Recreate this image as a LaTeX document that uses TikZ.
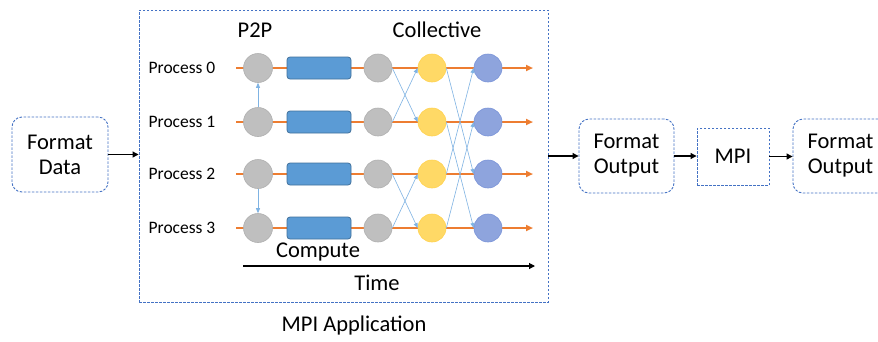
\documentclass[tikz,border=0pt]{standalone}
\usepackage{fontspec}
\setmainfont{Carlito}
\usetikzlibrary{arrows.meta}
\definecolor{dashblue}{HTML}{4472C4}
\definecolor{lineorange}{HTML}{ED7D31}
\definecolor{grayfill}{HTML}{BFBFBF}
\definecolor{grayedge}{HTML}{AFAFAF}
\definecolor{rectfill}{HTML}{5B9BD5}
\definecolor{rectedge}{HTML}{41719C}
\definecolor{yelfill}{HTML}{FFD966}
\definecolor{yeledge}{HTML}{FFD24F}
\definecolor{purfill}{HTML}{8EA4DD}
\definecolor{puredge}{HTML}{7A93D8}
\definecolor{msgblue}{HTML}{7FB3E3}
\tikzset{
  dbox/.style={draw=dashblue, line width=0.9pt, dash pattern=on 2.5pt off 1.5pt, align=center, font=\fontsize{22.5}{25}\selectfont, inner sep=0pt},
  rbox/.style={dbox, rounded corners=10pt},
  blackarr/.style={-{Triangle[length=6pt,width=6pt]}, line width=1.1pt, black},
  procline/.style={-{Triangle[length=7pt,width=6pt]}, line width=1.9pt, lineorange},
  msg/.style={-{Triangle[length=5pt,width=4pt]}, line width=0.6pt, msgblue},
  graynode/.style={circle, fill=grayfill, draw=grayedge, line width=0.6pt, minimum size=29pt, inner sep=0pt},
  yelnode/.style={circle, fill=yelfill, draw=yeledge, line width=0.6pt, minimum size=28pt, inner sep=0pt},
  purnode/.style={circle, fill=purfill, draw=puredge, line width=0.6pt, minimum size=28pt, inner sep=0pt},
  compbox/.style={rectangle, rounded corners=3pt, fill=rectfill, draw=rectedge, line width=0.8pt, minimum width=64pt, minimum height=22pt, inner sep=0pt},
  proclabel/.style={font=\fontsize{17.5}{20}\selectfont},
  biglabel/.style={font=\fontsize{22.5}{25}\selectfont},
}
\begin{document}
\begin{tikzpicture}[x=1pt,y=-1pt]
\useasboundingbox[fill=white] (0,0) rectangle (878,341);
% outer boxes
\node[rbox, minimum width=96pt, minimum height=75pt] (fd) at (60,154.5) {Format\\Data};
\node[dbox, minimum width=409pt, minimum height=292pt] (app) at (343.5,156) {};
\node[rbox, minimum width=95pt, minimum height=74pt] (fo1) at (626.5,156) {Format\\Output};
\node[dbox, minimum width=72pt, minimum height=57pt] (mpi) at (733,156.5) {MPI};
\node[rbox, minimum width=95pt, minimum height=74pt] (fo2) at (840.5,156) {Format\\Output};
\draw[blackarr] (fd.east) -- (fd.east -| app.west);
\draw[blackarr] (app.east |- fo1.west) -- (fo1.west);
\draw[blackarr] (fo1.east) -- (fo1.east -| mpi.west);
\draw[blackarr] (mpi.east) -- (mpi.east -| fo2.west);
% labels
\node[biglabel] (p2p) at (255,30) {P2P};
\node[biglabel] (coll) at (437,30) {Collective};
\node[biglabel] (comp) at (318,252) {Compute};
\node[biglabel] (time) at (377,283) {Time};
\node[biglabel] (mpiapp) at (354,325) {MPI Application};
\coordinate (ts) at (243,266);
\coordinate (te) at (535,266);
\draw[blackarr] (ts) -- (te);
% process rows
\foreach \i/\y in {0/68,1/122,2/174,3/228}{
  \node[proclabel] (lab\i) at (182,\y) {Process \i};
  \coordinate (ls\i) at (236,\y);
  \coordinate (le\i) at (533,\y);
  \draw[procline] (ls\i) -- (le\i);
  \node[graynode] (ga\i) at (258,\y) {};
  \node[compbox] (c\i) at (319,\y) {};
  \node[graynode, minimum size=28pt] (gb\i) at (378,\y) {};
  \node[yelnode] (y\i) at (432,\y) {};
  \node[purnode] (p\i) at (488,\y) {};
}
% P2P messages
\draw[msg] (ga1.north) -- (ga0.south);
\draw[msg] (ga2.south) -- (ga3.north);
% collective stage 1
\draw[msg] (gb0.east) -- (y1.west);
\draw[msg] (gb1.east) -- (y0.west);
\draw[msg] (gb2.east) -- (y3.west);
\draw[msg] (gb3.east) -- (y2.west);
% collective stage 2
\draw[msg] (y0.east) -- (p2.west);
\draw[msg] (y2.east) -- (p0.west);
\draw[msg] (y1.east) -- (p3.west);
\draw[msg] (y3.east) -- (p1.west);
\end{tikzpicture}
\end{document}
